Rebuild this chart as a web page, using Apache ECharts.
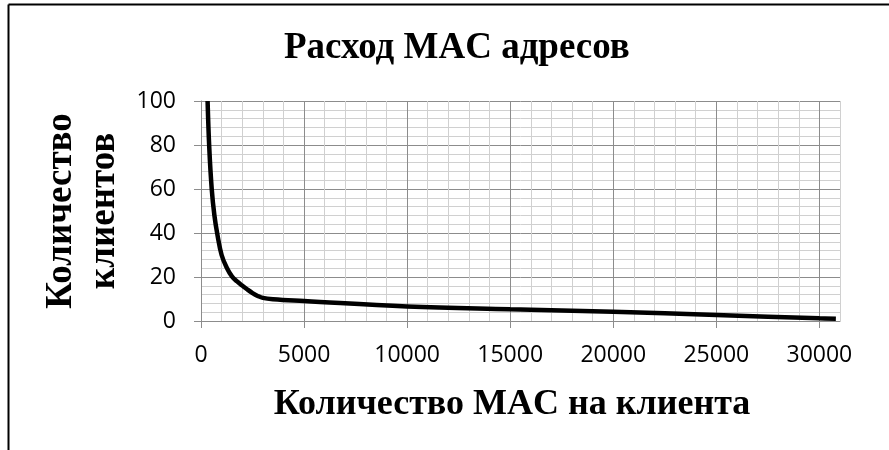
<!DOCTYPE html>
<html>
<head>
<meta charset="utf-8">
<script src="https://cdn.jsdelivr.net/npm/echarts@6/dist/echarts.min.js"></script>
<style>
  html, body { margin: 0; padding: 0; background: #fff; }
  #chart { width: 889px; height: 450px; }
</style>
</head>
<body>
<div id="chart"></div>
<script>
// MAC addresses per client vs number of clients
const macPerClient = [320, 400, 520, 650, 800, 1000, 1250, 1500, 1750, 2000, 2250, 2500, 2750, 3000, 3500, 5000, 10000, 15000, 20000, 25000, 30000, 30800];
const clientCount  = [100, 79, 60, 48, 39, 30, 24.2, 20.3, 18, 16.1, 14.3, 12.7, 11.4, 10.5, 9.9, 9.1, 6.6, 5.3, 4.2, 2.7, 1.2, 1];

const xMajorTicks = [0, 5000, 10000, 15000, 20000, 25000, 30000];
const yMajorTicks = [0, 20, 40, 60, 80, 100];

const MAJOR = '#8c8c8c';
const MINOR = '#d0d0d0';
const LABEL_FONT = 'Open Sans';
const NAME_FONT = 'Liberation Serif';

const chart = echarts.init(document.getElementById('chart'), null, { renderer: 'canvas' });

const nameStyle = { fontFamily: NAME_FONT, fontWeight: 'bold', fontSize: 37, color: '#000' };
const labelStyle = { fontFamily: LABEL_FONT, fontSize: 23, color: '#000' };
const plain = v => String(v);

chart.setOption({
  backgroundColor: '#ffffff',
  animation: false,
  title: {
    text: 'Расход MAC адресов',
    left: 284,
    top: 30,
    padding: 0,
    textStyle: nameStyle
  },
  graphic: [
    { type: 'line', shape: { x1: 8.5, y1: 4.5, x2: 889, y2: 4.5 }, style: { stroke: '#000', lineWidth: 2 } },
    { type: 'line', shape: { x1: 8.5, y1: 4.5, x2: 8.5, y2: 450 }, style: { stroke: '#000', lineWidth: 2 } }
  ],
  grid: { left: 201, top: 101, right: 49, bottom: 129, containLabel: false },
  xAxis: [
    {
      // fine grid: every 1000, every fifth line darker
      type: 'value', position: 'bottom',
      min: 0, max: 31000, interval: 1000,
      axisLine: { show: true, lineStyle: { color: MAJOR, width: 1 } },
      axisTick: { show: false },
      axisLabel: { show: false },
      splitLine: { show: true, lineStyle: { color: [MAJOR, MINOR, MINOR, MINOR, MINOR], width: 1 } }
    },
    {
      // labelled ticks every 5000
      type: 'value', position: 'bottom',
      min: 0, max: 31000,
      name: 'Количество MAC на клиента',
      nameLocation: 'middle',
      nameGap: 66,
      nameTextStyle: Object.assign({ padding: [0, 17, 0, 0] }, nameStyle, { fontSize: 36 }),
      axisLine: { show: false },
      axisTick: { show: true, length: 7, customValues: xMajorTicks, lineStyle: { color: MAJOR } },
      axisLabel: Object.assign({ customValues: xMajorTicks, margin: 23, formatter: plain }, labelStyle),
      splitLine: { show: false }
    }
  ],
  yAxis: [
    {
      type: 'value', position: 'left',
      min: 0, max: 100, interval: 4,
      axisLine: { show: true, lineStyle: { color: MAJOR, width: 1 } },
      axisTick: { show: false },
      axisLabel: { show: false },
      splitLine: { show: true, lineStyle: { color: [MAJOR, MINOR, MINOR, MINOR, MINOR], width: 1 } }
    },
    {
      type: 'value', position: 'left',
      min: 0, max: 100,
      name: 'Количество\nклиентов',
      nameLocation: 'middle',
      nameRotate: 90,
      nameGap: 64,
      nameTextStyle: Object.assign({ lineHeight: 43 }, nameStyle),
      axisLine: { show: false },
      axisTick: { show: true, length: 7, customValues: yMajorTicks, lineStyle: { color: MAJOR } },
      axisLabel: Object.assign({ customValues: yMajorTicks, margin: 25, formatter: plain }, labelStyle),
      splitLine: { show: false }
    }
  ],
  series: [{
    type: 'line',
    xAxisIndex: 0,
    yAxisIndex: 0,
    data: macPerClient.map((x, i) => [x, clientCount[i]]),
    showSymbol: false,
    smooth: 0.4,
    lineStyle: { color: '#000', width: 4.5 },
    itemStyle: { color: '#000' }
  }]
});
</script>
</body>
</html>
